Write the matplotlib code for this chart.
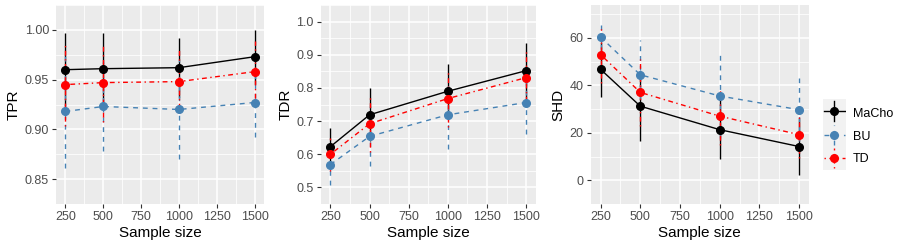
import matplotlib
matplotlib.use("Agg")
import matplotlib.pyplot as plt
import numpy as np

plt.rcParams['font.family'] = ['Liberation Sans', 'DejaVu Sans']

# data
sizes = [250, 500, 1000, 1500]
methods = ["MaCho", "BU", "TD"]

tpr_mean = {"MaCho": [0.960, 0.961, 0.962, 0.973],
            "BU":    [0.918, 0.923, 0.920, 0.927],
            "TD":    [0.945, 0.947, 0.948, 0.958]}
tpr_sd = {"MaCho": [0.037, 0.036, 0.030, 0.027],
          "BU":    [0.057, 0.045, 0.050, 0.035],
          "TD":    [0.042, 0.040, 0.032, 0.031]}

tdr_mean = {"MaCho": [0.623, 0.719, 0.790, 0.852],
            "BU":    [0.569, 0.654, 0.719, 0.756],
            "TD":    [0.600, 0.692, 0.768, 0.831]}
tdr_sd = {"MaCho": [0.055, 0.080, 0.081, 0.084],
          "BU":    [0.062, 0.090, 0.103, 0.096],
          "TD":    [0.050, 0.086, 0.086, 0.087]}

shd_mean = {"MaCho": [46.7, 31.2, 21.3, 14.2],
            "BU":    [60.3, 44.4, 35.5, 29.7],
            "TD":    [52.9, 37.0, 27.0, 19.2]}
shd_sd = {"MaCho": [11.6, 14.6, 12.4, 12.0],
          "BU":    [5.0, 14.6, 17.7, 13.2],
          "TD":    [11.9, 14.0, 12.0, 10.0]}

colors = {"MaCho": "black", "BU": "#4682B4", "TD": "red"}
dashes = {"MaCho": None, "BU": (3.5, 3.5), "TD": (1, 2.5, 3.5, 2.5)}

fig = plt.figure(figsize=(9, 2.5), dpi=100)

panels = [
    ("TPR", tpr_mean, tpr_sd, [0.0622, 0.184, 0.2311, 0.796], (0.842, 1.020),
     [0.85, 0.90, 0.95, 1.00], ["0.85", "0.90", "0.95", "1.00"]),
    ("TDR", tdr_mean, tdr_sd, [0.3563, 0.184, 0.2392, 0.796], (0.477, 1.040),
     [0.5, 0.6, 0.7, 0.8, 0.9, 1.0], ["0.5", "0.6", "0.7", "0.8", "0.9", "1.0"]),
    ("SHD", shd_mean, shd_sd, [0.6563, 0.184, 0.2426, 0.796], (-3.2, 73.8),
     [0, 20, 40, 60], ["0", "20", "40", "60"]),
]


def style_series(line, bars, m):
    if dashes[m] is not None:
        line.set_dashes(dashes[m])
        for b in bars:
            b.set_linestyle((0, dashes[m]))


for ylab, mean, sd, pos, ylim, yticks, yticklabels in panels:
    ax = fig.add_axes(pos)
    ax.set_facecolor("#EBEBEB")
    for s in ax.spines.values():
        s.set_visible(False)
    ax.set_xlim(187.5, 1562.5)
    ax.set_ylim(*ylim)
    ax.set_xticks([250, 500, 750, 1000, 1250, 1500])
    ax.set_xticklabels(["250", "500", "750", "1000", "1250", "1500"])
    ax.set_xticks([375, 625, 875, 1125, 1375], minor=True)
    ax.set_yticks(yticks)
    ax.set_yticklabels(yticklabels)
    step = yticks[1] - yticks[0]
    ax.set_yticks([t + step / 2 for t in [yticks[0] - step] + yticks], minor=True)
    ax.grid(which="major", color="white", lw=1.1)
    ax.grid(which="minor", color="white", lw=0.55)
    ax.set_axisbelow(True)
    ax.tick_params(which="major", length=3, width=0.8, color="#333333",
                   labelcolor="#4D4D4D", labelsize=9, pad=2)
    ax.tick_params(which="minor", length=0)
    ax.set_xlabel("Sample size", fontsize=11, labelpad=2)
    ax.set_ylabel(ylab, fontsize=11, labelpad=3)

    for m in methods:
        line, caps, bars = ax.errorbar(sizes, mean[m], yerr=sd[m], color=colors[m], lw=1.0,
                                       elinewidth=1.0, marker="o", ms=5.5, capsize=0, zorder=3)
        style_series(line, bars, m)

# legend drawn by hand, ggplot style keys
lax = fig.add_axes([822.7 / 900, 1 - 170 / 250, 23.3 / 900, 70.7 / 250])
lax.set_xlim(0, 1)
lax.set_ylim(0, 3)
lax.set_facecolor("#F2F2F2")
lax.set_xticks([])
lax.set_yticks([])
for s in lax.spines.values():
    s.set_visible(False)
for i, m in enumerate(methods):
    yc = 2.5 - i
    h, = lax.plot([0.05, 0.95], [yc, yc], color=colors[m], lw=1.0)
    v, = lax.plot([0.5, 0.5], [yc - 0.42, yc + 0.42], color=colors[m], lw=1.0)
    lax.plot([0.5], [yc], "o", color=colors[m], ms=5.5)
    style_series(h, [v], m)
    fig.text(853 / 900, 1 - (114 + 22.7 * i) / 250, m, fontsize=9, va="center", ha="left")

fig.savefig("out.png", dpi=100)
